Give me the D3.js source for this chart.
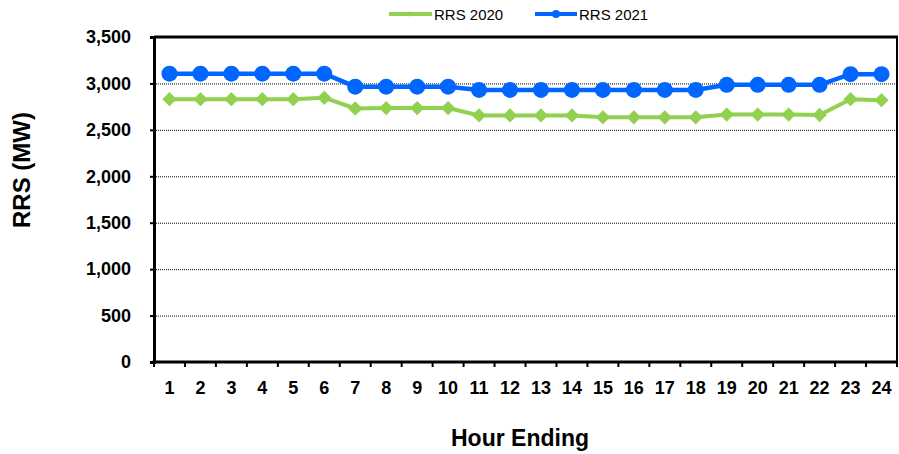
<!DOCTYPE html>
<html>
<head>
<meta charset="utf-8">
<script src="https://d3js.org/d3.v7.min.js"></script>
<style>
  body { margin: 0; background: #fff; }
  svg text { font-family: Arial, "Liberation Sans", sans-serif; }
</style>
</head>
<body>
<div id="chart"></div>
<script>
    const hours = d3.range(1, 25);
    const rrs2020 = [2830, 2830, 2830, 2830, 2830, 2845, 2730, 2735, 2735, 2735, 2655, 2655,
                     2655, 2655, 2635, 2635, 2635, 2635, 2665, 2665, 2665, 2660, 2830, 2820];
    const rrs2021 = [3105, 3105, 3105, 3105, 3105, 3105, 2965, 2965, 2965, 2965, 2930, 2930,
                     2930, 2930, 2930, 2930, 2930, 2930, 2985, 2985, 2985, 2985, 3100, 3100];
    const yTicks = [0, 500, 1000, 1500, 2000, 2500, 3000, 3500];

    (function() {
    const W = 899, H = 454;
    const mLeft = 154, mRight = 897, mTop = 37, mBottom = 362;

    const svg = d3.select("#chart").append("svg")
        .attr("width", W).attr("height", H);

    const x = d3.scaleBand().domain(hours).range([mLeft, mRight]);
    const y = d3.scaleLinear().domain([0, 3500]).range([mBottom, mTop]);

    // gridlines
    svg.append("g").selectAll("line")
        .data(yTicks.filter(d => d > 0 && d < 3500))
        .enter().append("line")
        .attr("x1", mLeft).attr("x2", mRight)
        .attr("y1", d => y(d) + 0.5).attr("y2", d => y(d) + 0.5)
        .attr("stroke", "#000").attr("stroke-width", 1)
        .attr("stroke-dasharray", "1,1");

    // plot box top/right
    svg.append("line").attr("x1", mLeft).attr("x2", mRight + 1)
        .attr("y1", mTop).attr("y2", mTop).attr("stroke", "#000").attr("stroke-width", 3);
    svg.append("line").attr("x1", mRight).attr("x2", mRight)
        .attr("y1", mTop).attr("y2", mBottom).attr("stroke", "#000").attr("stroke-width", 2);

    // y axis
    const yAxis = svg.append("g").attr("transform", `translate(${mLeft},0)`)
        .call(d3.axisLeft(y).tickValues(yTicks).tickSize(4).tickPadding(19)
            .tickFormat(d3.format(",")));
    yAxis.select(".domain").attr("stroke-width", 3);
    yAxis.selectAll(".tick line").attr("stroke-width", 2);
    yAxis.selectAll("text").attr("font-size", 18).attr("font-weight", "bold")
        .attr("font-family", "Arial, 'Liberation Sans', sans-serif").attr("fill", "#000");

    // x axis
    const xAxis = svg.append("g").attr("transform", `translate(0,${mBottom})`)
        .call(d3.axisBottom(x).tickSize(0).tickPadding(19));
    xAxis.select(".domain").remove();
    xAxis.selectAll("text").attr("font-size", 18).attr("font-weight", "bold")
        .attr("font-family", "Arial, 'Liberation Sans', sans-serif").attr("fill", "#000");
    svg.append("line").attr("x1", mLeft - 1.5).attr("x2", mRight + 1)
        .attr("y1", mBottom).attr("y2", mBottom).attr("stroke", "#000").attr("stroke-width", 3);
    svg.append("g").selectAll("line")
        .data(hours.concat([25]))
        .enter().append("line")
        .attr("x1", d => d === 25 ? mRight : x(d)).attr("x2", d => d === 25 ? mRight : x(d))
        .attr("y1", mBottom).attr("y2", mBottom + 5)
        .attr("stroke", "#000").attr("stroke-width", 2);

    const cx = d => x(d) + x.bandwidth() / 2;

    const line = d3.line().x((d, i) => cx(hours[i])).y(d => y(d));

    svg.append("path").datum(rrs2020).attr("d", line)
        .attr("fill", "none").attr("stroke", "#92D050").attr("stroke-width", 4);
    svg.append("g").selectAll("path").data(rrs2020).enter().append("path")
        .attr("d", d3.symbol().type(d3.symbolDiamond2).size(130))
        .attr("transform", (d, i) => `translate(${cx(hours[i])},${y(d)})`)
        .attr("fill", "#92D050");

    svg.append("path").datum(rrs2021).attr("d", line)
        .attr("fill", "none").attr("stroke", "#0066FF").attr("stroke-width", 4.5);
    svg.append("g").selectAll("circle").data(rrs2021).enter().append("circle")
        .attr("cx", (d, i) => cx(hours[i])).attr("cy", d => y(d)).attr("r", 8)
        .attr("fill", "#0066FF");

    // legend
    const leg = svg.append("g");
    leg.append("line").attr("x1", 389).attr("x2", 432).attr("y1", 14).attr("y2", 14)
        .attr("stroke", "#92D050").attr("stroke-width", 4);
    leg.append("path").attr("d", d3.symbol().type(d3.symbolDiamond2).size(18))
        .attr("transform", "translate(410,14)").attr("fill", "#92D050");
    leg.append("text").attr("x", 434).attr("y", 20).attr("font-size", 15).text("RRS 2020");
    leg.append("line").attr("x1", 535).attr("x2", 577).attr("y1", 14).attr("y2", 14)
        .attr("stroke", "#0066FF").attr("stroke-width", 4);
    leg.append("circle").attr("cx", 556).attr("cy", 14).attr("r", 4).attr("fill", "#0066FF");
    leg.append("text").attr("x", 579).attr("y", 20).attr("font-size", 15).text("RRS 2021");

    // axis titles
    svg.append("text").attr("x", 520).attr("y", 446).attr("text-anchor", "middle")
        .attr("font-size", 23).attr("font-weight", "bold").text("Hour Ending");
    svg.append("text").attr("transform", "translate(30,170) rotate(-90)")
        .attr("text-anchor", "middle").attr("font-size", 24).attr("font-weight", "bold")
        .text("RRS (MW)");
    })();
</script>
</body>
</html>
